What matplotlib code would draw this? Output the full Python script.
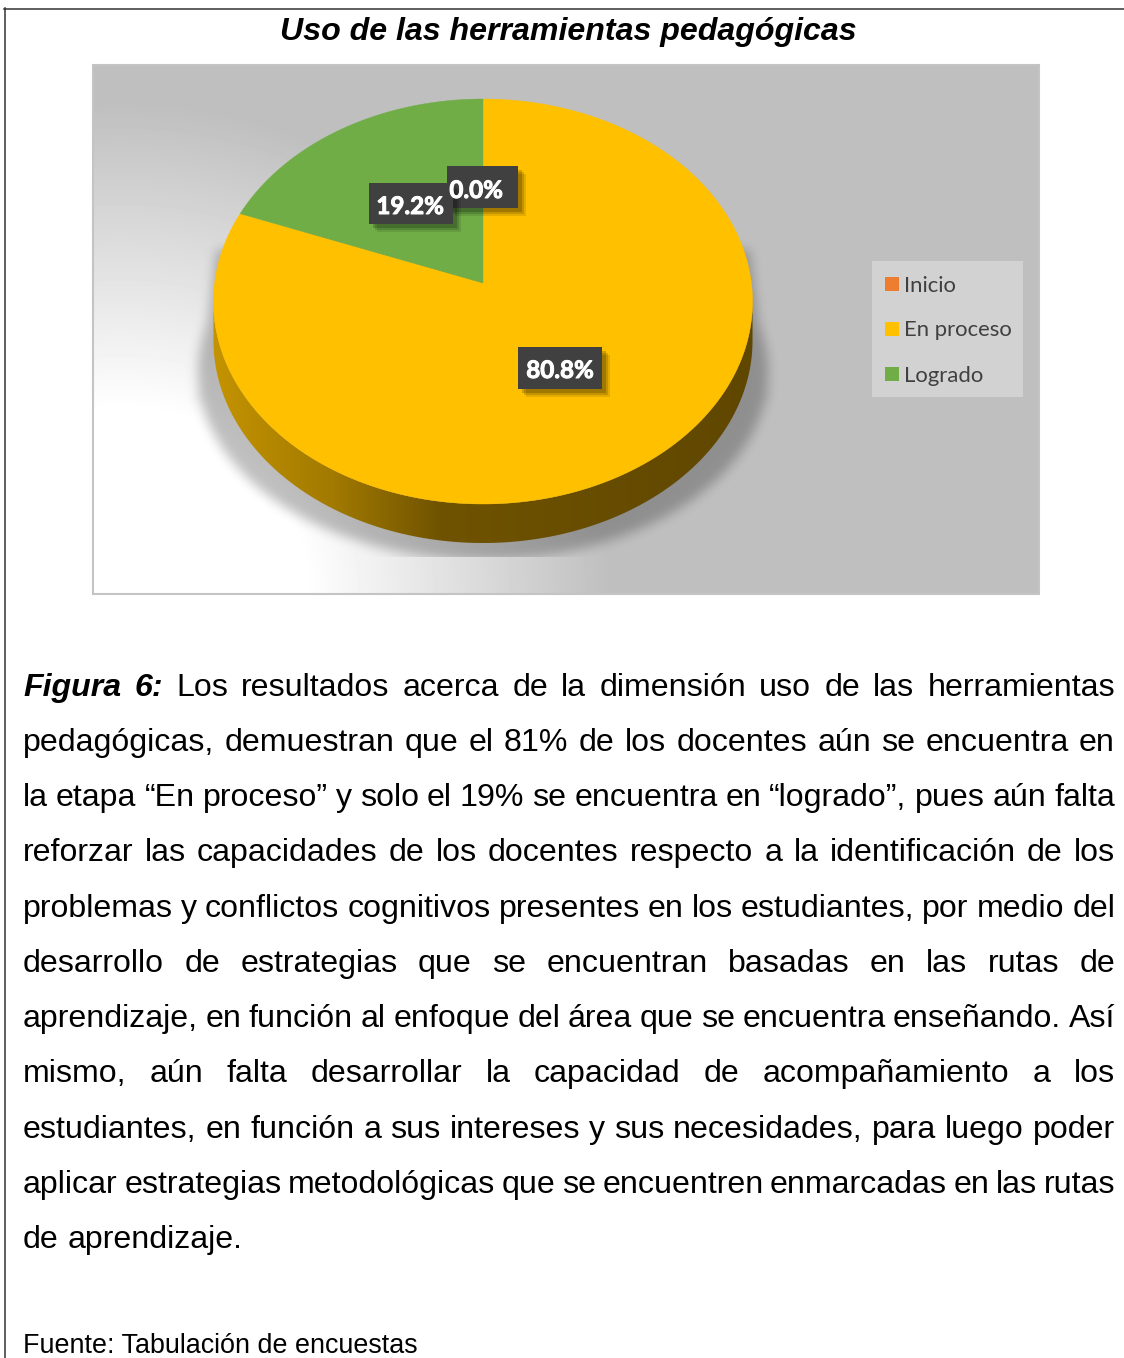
import numpy as np
import matplotlib
matplotlib.use('Agg')
import matplotlib.pyplot as plt
import matplotlib.patheffects as pe
from matplotlib.colors import LinearSegmentedColormap
from matplotlib.patches import Polygon, Rectangle

# chart data
categories = ['Inicio', 'En proceso', 'Logrado']
values = [0.0, 80.8, 19.2]
colors = ['#ed7d31', '#ffc000', '#70ad47']
title = 'Uso de las herramientas pedagógicas'
source = 'Fuente: Tabulación de encuestas'

# body of the caption, one entry per printed line
caption = [
    'Figura 6: Los resultados acerca de la dimensión uso de las herramientas',
    'pedagógicas, demuestran que el 81% de los docentes aún se encuentra en',
    'la etapa “En proceso” y solo el 19% se encuentra en “logrado”, pues aún falta',
    'reforzar las capacidades de los docentes respecto a la identificación de los',
    'problemas y conflictos cognitivos presentes en los estudiantes, por medio del',
    'desarrollo de estrategias que se encuentran basadas en las rutas de',
    'aprendizaje, en función al enfoque del área que se encuentra enseñando. Así',
    'mismo, aún falta desarrollar la capacidad de acompañamiento a los',
    'estudiantes, en función a sus intereses y sus necesidades, para luego poder',
    'aplicar estrategias metodológicas que se encuentren enmarcadas en las rutas',
    'de aprendizaje.',
]

W, H = 1124, 1358
fig = plt.figure(figsize=(W / 100, H / 100), dpi=100)
ax = fig.add_axes([0, 0, 1, 1])
ax.axis('off')

# chart background: radial fade from white (bottom left) to grey, then the soft shadow
L, R, T, B = 93, 1039, 65, 594
xx, yy = np.meshgrid(np.arange(L, R) + 0.5, np.arange(T, B) + 0.5)
dist = np.hypot(xx - 120, yy - 594)
fade = np.clip((dist - 185) / 305, 0, 1)
bg = 255 + (191 - 255) * fade

# shadow mask: trapezoid + ellipse, blurred with a few box filters
trap = (yy > 250) & (yy < 400) & (np.abs(xx - 483) < 268 + (yy - 265) * 0.125)
ell = ((xx - 483) / 285) ** 2 + ((yy - 372) / 188) ** 2 < 1
mask = (trap | ell).astype(float)
for _ in range(3):
    for axis in (0, 1):
        kernel = np.ones(11) / 11
        mask = np.apply_along_axis(lambda r: np.convolve(r, kernel, mode='same'), axis, mask)
mask[yy > 557] = 0
bg = bg * (1 - 0.25 * mask)
ax.imshow(bg, extent=(L, R, B, T), cmap='gray', vmin=0, vmax=255, aspect='auto', zorder=1)
ax.add_patch(Rectangle((L, T), R - L, B - T, fill=False, ec='#c4c4c4', lw=1.5, zorder=2))

# pie geometry, perspective projection of the unit circle
cx, cy = 483, 283
a, b, k = 268.4, 200.8, 0.0914
depth = 39


def project(theta):
    # theta in radians, clockwise from 12 o'clock
    u, v = np.sin(theta), np.cos(theta)
    return cx + a * u / (1 + k * v), cy - b * v / (1 + k * v)


# side wall of the cylinder
t = np.linspace(0, 2 * np.pi, 721)
ox, oy = project(t)
front = np.arange(np.argmax(ox), np.argmin(ox) + 1)
wall = np.column_stack([np.r_[ox[front], ox[front][::-1]],
                        np.r_[oy[front], oy[front][::-1] + depth]])
wall_cmap = LinearSegmentedColormap.from_list('wall', [(0, '#c49300'), (0.22, '#a27a00'),
                                                       (0.42, '#6f5300'), (1, '#604700')])
im = ax.imshow(np.linspace(0, 1, 256)[None, :], extent=(213, 753, 560, 270), cmap=wall_cmap,
               aspect='auto', zorder=3)
clip = Polygon(wall, closed=True, transform=ax.transData, fc='none', ec='none')
ax.add_patch(clip)
im.set_clip_path(clip)

# top face
start = 0.0
for val, col in zip(values, colors):
    if val > 0:
        theta = np.linspace(start, start + val / 100 * 2 * np.pi, 400)
        px, py = project(theta)
        ax.fill(np.r_[cx, px], np.r_[cy, py], color=col, lw=0.3, zorder=4)
    start += val / 100 * 2 * np.pi

# data labels
label_font = ['Lato', 'DejaVu Sans']
label_boxes = [(447, 166, 518, 208), (518, 347, 602, 389), (369, 183, 453, 224)]
label_text = [(476, 189), (560, 369), (410, 205)]
for idx in [0, 2, 1]:
    x0, y0, x1, y1 = label_boxes[idx]
    for off, alpha in ((8, 0.10), (6, 0.14), (4, 0.18)):
        ax.add_patch(Rectangle((x0 + off, y0 + off), x1 - x0, y1 - y0, fc='black', ec='none',
                               alpha=alpha, zorder=5 + idx))
    ax.add_patch(Rectangle((x0, y0), x1 - x0, y1 - y0, fc='#404040', ec='none', zorder=5 + idx))
    ax.text(label_text[idx][0], label_text[idx][1] + 1.5, '%.1f%%' % values[idx], color='white',
            family=label_font, weight='bold', fontsize=17.4, ha='center', va='center', zorder=8 + idx,
            path_effects=[pe.withStroke(linewidth=0.7, foreground='white')])

# legend
ax.add_patch(Rectangle((872, 261), 151, 136, fc='#d2d2d2', ec='none', zorder=3))
for name, col, ly in zip(categories, colors, [284, 329, 374]):
    ax.add_patch(Rectangle((885, ly - 7), 14, 14, fc=col, ec='none', zorder=4))
    ax.text(904, ly + 1.5, name, color='#404040', family=label_font, fontsize=15.9, va='center', zorder=4)

# title and page frame
ax.text(568, 40, title, family='Liberation Sans', weight='bold', style='italic', fontsize=23.1,
        ha='center', va='baseline', color='black', zorder=4)
ax.plot([4, 1124], [8.5, 8.5], color='#333333', lw=1.1, zorder=4)
ax.plot([4.5, 4.5], [8, 1358], color='#333333', lw=1.1, zorder=4)

# justified caption
renderer = fig.canvas.get_renderer()
left, right = 23, 1115
baselines = [696, 751, 806, 861, 917, 972, 1027, 1082, 1138, 1193, 1248]
body_size = 23.1


def word_style(line_no, word_no):
    if line_no == 0 and word_no < 2:
        return {'weight': 'bold', 'style': 'italic'}
    return {}


for i, (line, base) in enumerate(zip(caption, baselines)):
    words = line.split(' ')
    items = [ax.text(0, base, w, family='Liberation Sans', fontsize=body_size, va='baseline',
                     color='black', zorder=4, **word_style(i, j)) for j, w in enumerate(words)]
    widths = [it.get_window_extent(renderer).width for it in items]
    space = body_size / 0.72 * 0.278
    if i < len(caption) - 1:
        space = (right - left - sum(widths)) / (len(words) - 1)
    x = left
    for it, w in zip(items, widths):
        it.set_x(x)
        x += w + space

ax.text(left, 1353, source, family='Liberation Sans', fontsize=19.4, va='baseline', color='black', zorder=4)

ax.set_xlim(0, W)
ax.set_ylim(H, 0)
fig.savefig('out.png', dpi=100, facecolor='white')
